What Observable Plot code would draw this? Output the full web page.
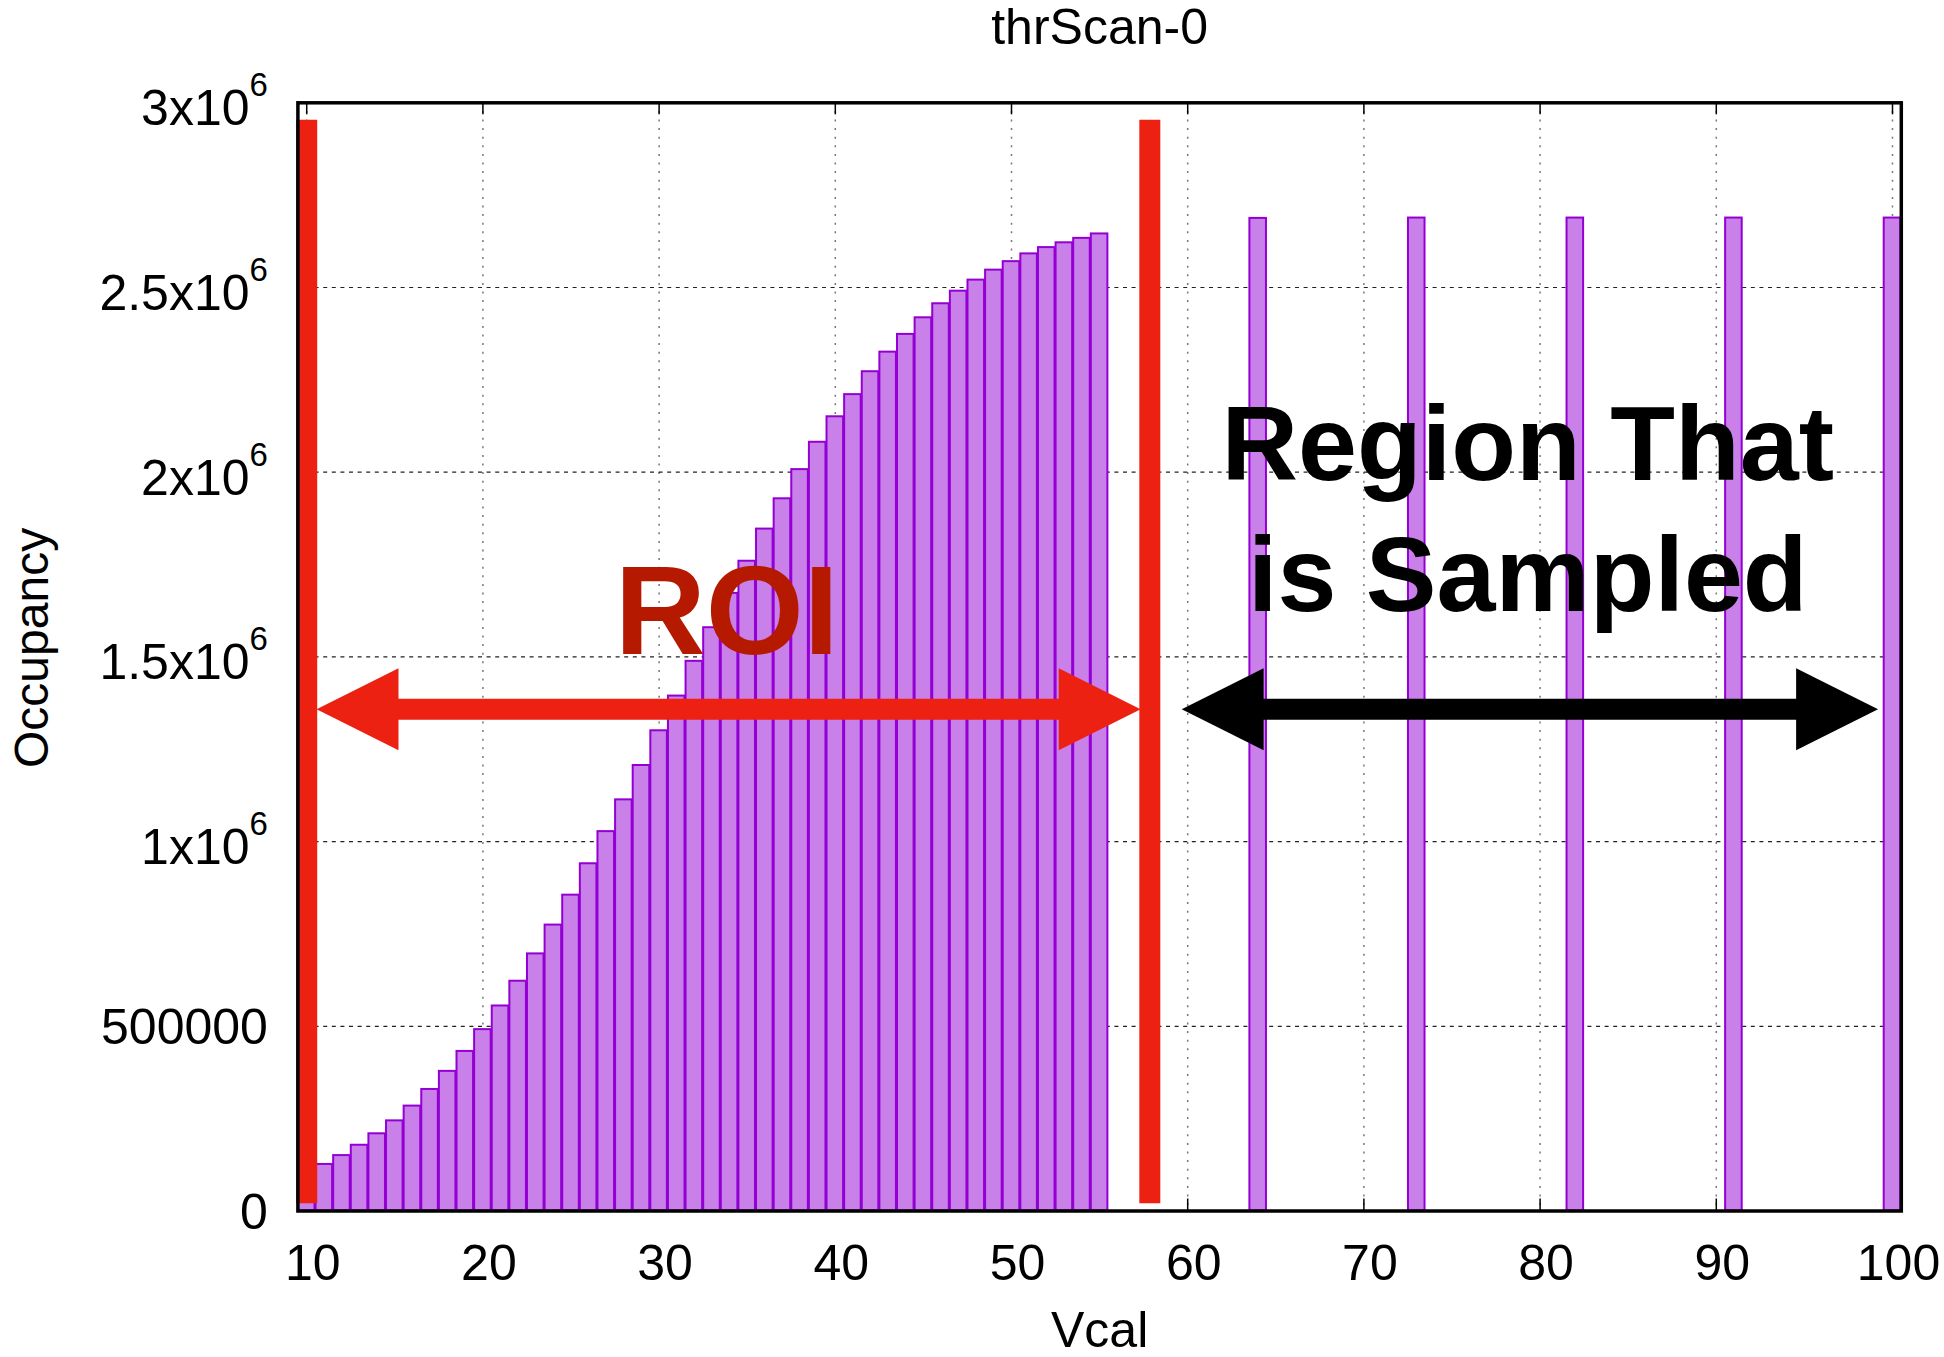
<!DOCTYPE html>
<html>
<head>
<meta charset="utf-8">
<script src="https://cdn.jsdelivr.net/npm/d3@7"></script>
<script src="https://cdn.jsdelivr.net/npm/@observablehq/plot@0.6"></script>
<style>
  html, body { margin: 0; padding: 0; background: #fff; }
</style>
</head>
<body>
<div id="chart"></div>
<script>
// ---- data ----
const roiVcal = [10,11,12,13,14,15,16,17,18,19,20,21,22,23,24,25,26,27,28,29,30,
                 31,32,33,34,35,36,37,38,39,40,41,42,43,44,45,46,47,48,49,50,51,52,53,54,55];
const roiOccupancy = [105000,126000,150000,178000,209000,244000,284000,329000,378000,432000,491000,
                      555000,622000,696000,774000,855000,940000,1027000,1113000,1206000,1300000,
                      1394000,1488000,1579000,1672000,1759000,1846000,1928000,2007000,2081000,2150000,
                      2210000,2272000,2325000,2373000,2418000,2456000,2490000,2520000,2547000,2570000,
                      2591000,2608000,2621000,2633000,2645000];
const sampledVcal = [64, 73, 82, 91, 100];
const sampledOccupancy = [2687000, 2688000, 2688000, 2688000, 2688000];

const xTicks = [10,20,30,40,50,60,70,80,90,100];
const yTicks = [0,500000,1000000,1500000,2000000,2500000,3000000];
const yGrid = [500000,1000000,1500000,2000000,2500000];
const xDomain = [9.5, 100.5];
const yDomain = [0, 3000000];

// annotations (data units)
const roiBounds = [10, 57.85];
const roiBoundSpan = [19500, 2953000];
const arrowLevel = 1358000;
const roiArrow = [10.56, 57.33];
const sampledArrow = [59.66, 99.18];
const arrowHeadLength = 4.65;
const arrowHeadHalf = 111000;
const roiLabel = [{x: 33.84, y: 1507000, text: "ROI"}];
const sampledLabel = [{x: 79.3, y: 1624600, text: "Region That\nis Sampled"}];

const titleText = ["thrScan-0"];
const xLabelText = ["Vcal"];
const yLabelText = ["Occupancy"];

// ---- build tables ----
const bars = roiVcal.map((v, i) => ({x: v, y: roiOccupancy[i]}))
  .concat(sampledVcal.map((v, i) => ({x: v, y: sampledOccupancy[i]})));
const barHalf = 0.47;

function heads(span, id) {
  const [a, b] = span;
  return [
    {id: id + "L", x: a, y: arrowLevel},
    {id: id + "L", x: a + arrowHeadLength, y: arrowLevel + arrowHeadHalf},
    {id: id + "L", x: a + arrowHeadLength, y: arrowLevel - arrowHeadHalf},
    {id: id + "L", x: a, y: arrowLevel},
    {id: id + "R", x: b, y: arrowLevel},
    {id: id + "R", x: b - arrowHeadLength, y: arrowLevel + arrowHeadHalf},
    {id: id + "R", x: b - arrowHeadLength, y: arrowLevel - arrowHeadHalf},
    {id: id + "R", x: b, y: arrowLevel}
  ];
}
const tickLenY = 12 * (yDomain[1] - yDomain[0]) / 1108.2;
const tickLenX = 12 * (xDomain[1] - xDomain[0]) / 1603.4;

const RED = "#ed2112";
const fmtY = d => d < 1000000 ? String(d) : `${d / 1000000}x10^6`;

const chart = Plot.plot({
  width: 1944,
  height: 1357,
  marginLeft: 297.4,
  marginRight: 43.2,
  marginTop: 102.3,
  marginBottom: 146.5,
  style: {fontFamily: "'Liberation Sans', Arial, Helvetica, sans-serif", background: "white", color: "black"},
  x: {domain: xDomain},
  y: {domain: yDomain},
  marks: [
    // grid
    Plot.ruleX(xTicks, {x: d => d, stroke: "#777", strokeWidth: 1.5, strokeDasharray: "2,6.6"}),
    Plot.ruleY(yGrid, {y: d => d, stroke: "#222", strokeWidth: 1.2, strokeDasharray: "4,4.6"}),
    // border ticks
    Plot.ruleX(xTicks, {x: d => d, y1: 0, y2: tickLenY, stroke: "black", strokeWidth: 1.5}),
    Plot.ruleX(xTicks, {x: d => d, y1: yDomain[1], y2: yDomain[1] - tickLenY, stroke: "black", strokeWidth: 1.5}),
    Plot.ruleY(yTicks, {y: d => d, x1: xDomain[0], x2: xDomain[0] + tickLenX, stroke: "black", strokeWidth: 1.5}),
    Plot.ruleY(yTicks, {y: d => d, x1: xDomain[1], x2: xDomain[1] - tickLenX, stroke: "black", strokeWidth: 1.5}),
    // bars
    Plot.rect(bars, {x1: d => d.x - barHalf, x2: d => d.x + barHalf, y1: 0, y2: "y",
      fill: "#c980e9", stroke: "#9400d3", strokeWidth: 2}),
    // axes
    Plot.axisX({ticks: xTicks, tickSize: 0, tickPadding: 33, fontSize: 50, dx: 6,
      tickFormat: d => String(d), label: null}),
    Plot.axisY({ticks: yTicks, tickSize: 0, tickPadding: 30, fontSize: 50, dy: 1.5,
      tickFormat: fmtY, label: null}),
    // ROI boundaries
    Plot.ruleX(roiBounds, {x: d => d, y1: roiBoundSpan[0], y2: roiBoundSpan[1], stroke: RED, strokeWidth: 21}),
    // arrows
    Plot.ruleY([arrowLevel], {x1: roiArrow[0] + arrowHeadLength - 0.3, x2: roiArrow[1] - arrowHeadLength + 0.3,
      stroke: RED, strokeWidth: 21}),
    Plot.line(heads(roiArrow, "r"), {x: "x", y: "y", z: "id", fill: RED, stroke: "none"}),
    Plot.ruleY([arrowLevel], {x1: sampledArrow[0] + arrowHeadLength - 0.3, x2: sampledArrow[1] - arrowHeadLength + 0.3,
      stroke: "black", strokeWidth: 21}),
    Plot.line(heads(sampledArrow, "s"), {x: "x", y: "y", z: "id", fill: "black", stroke: "none"}),
    // annotation text
    Plot.text(roiLabel, {x: "x", y: "y", text: "text", fontSize: 126, fontWeight: "bold",
      fill: "#b51a00", lineAnchor: "bottom"}),
    Plot.text(sampledLabel, {x: "x", y: "y", text: "text", fontSize: 106, fontWeight: "bold",
      fill: "black", lineAnchor: "bottom", lineHeight: 1.233}),
    // titles
    Plot.text(titleText, {frameAnchor: "top", lineAnchor: "bottom", dy: -59, fontSize: 50}),
    Plot.text(xLabelText, {frameAnchor: "bottom", lineAnchor: "bottom", dy: 136, fontSize: 50}),
    Plot.text(yLabelText, {frameAnchor: "left", textAnchor: "middle", lineAnchor: "middle",
      rotate: -90, dx: -265.7, dy: -9, fontSize: 48}),
    // border
    Plot.frame({stroke: "black", strokeWidth: 3.5})
  ]
});

// superscript exponents in y tick labels
chart.querySelectorAll("text").forEach(t => {
  const s = t.textContent;
  if (s.includes("x10^")) {
    const [mant, exp] = s.split("^");
    t.textContent = "";
    const ns = "http://www.w3.org/2000/svg";
    const a = document.createElementNS(ns, "tspan");
    a.setAttribute("dy", "5");
    a.textContent = mant;
    const b = document.createElementNS(ns, "tspan");
    b.setAttribute("dy", "-29");
    b.setAttribute("font-size", "33");
    b.textContent = exp;
    t.appendChild(a);
    t.appendChild(b);
  }
});

document.getElementById("chart").appendChild(chart);
</script>
</body>
</html>
